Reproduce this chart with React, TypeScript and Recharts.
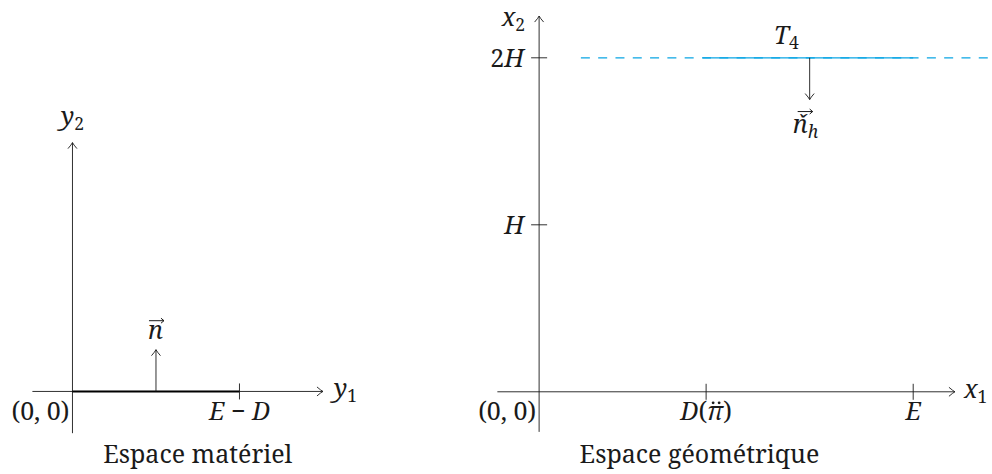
import React from "react";
import { LineChart, XAxis, YAxis, ReferenceLine, ReferenceDot } from "recharts";

// scale: one model unit in pixels (same on both axes)
const UNIT = 167;
const FONT = "Noto Serif";
const FS = 25;
const INK = "#1a1a1a";
const CYAN = "#0AA5E4";
const TICK = 8 / UNIT;

type Part = { t: string; it?: boolean; sub?: boolean };
type Tick = { value: number; parts: Part[]; dots?: number };

// --- material space (left)
const matAxisX = [-0.24, 1.5];
const matAxisY = [-0.25, 1.49];
const matSegment = [0, 1];
const matTicksX: Tick[] = [{ value: 1, parts: [{ t: "E", it: true }, { t: " − " }, { t: "D", it: true }] }];
const matNormal = { x: 0.5, from: 0, to: 0.25 };

// --- geometric space (right)
const geoAxisX = [-0.25, 2.49];
const geoAxisY = [-0.24, 2.25];
const geoTicksX: Tick[] = [
  // dots = horizontal offset of the double-dot accent over pi
  { value: 1, parts: [{ t: "D", it: true }, { t: "(" }, { t: "π", it: true }, { t: ")" }], dots: 10 },
  { value: 2.24, parts: [{ t: "E", it: true }] },
];
const geoTicksY: Tick[] = [
  { value: 1, parts: [{ t: "H", it: true }] },
  { value: 2, parts: [{ t: "2" }, { t: "H", it: true }] },
];
const boundaryLevel = 2;
const boundaryDashed = [0.25, 2.71];
const boundarySolid = [0.98, 2.24];
const geoNormal = { x: 1.62, from: 2, to: 1.75 };
const t4Pos = 1.48;

const MathText = ({ x, y, parts, anchor = "middle" }: { x: number; y: number; parts: Part[]; anchor?: string }) => (
  <text x={x} y={y} textAnchor={anchor as any} style={{ fontFamily: FONT, fontSize: FS }} fill={INK}>
    {parts.map((p, i) => {
      const prevSub = i > 0 && parts[i - 1].sub;
      const dy = p.sub ? 5 : prevSub ? -5 : 0;
      return (
        <tspan key={i} style={{ fontStyle: p.it ? "italic" : "normal", fontSize: p.sub ? FS * 0.7 : FS }} dy={dy}>
          {p.t}
        </tspan>
      );
    })}
  </text>
);

const VecMark = ({ x1, x2, y }: { x1: number; x2: number; y: number }) => (
  <g stroke={INK} strokeWidth={1} fill="none">
    <line x1={x1} y1={y} x2={x2} y2={y} />
    <path d={`M${x2 - 3},${y - 2.5} L${x2},${y} L${x2 - 3},${y + 2.5}`} />
  </g>
);

const Arrow = (props: any) => {
  const { x1, y1, x2, y2, stroke, strokeWidth } = props;
  const a = Math.atan2(y2 - y1, x2 - x1);
  const c = Math.cos(a);
  const s = Math.sin(a);
  const len = 6;
  const w = 4.5;
  const bx = x2 - len * c;
  const by = y2 - len * s;
  const qx = x2 - 2 * c;
  const qy = y2 - 2 * s;
  return (
    <g>
      <line x1={x1} y1={y1} x2={x2} y2={y2} stroke={stroke} strokeWidth={strokeWidth} />
      <path
        d={`M${bx - s * w},${by + c * w} Q${qx - s * 1},${qy + c * 1} ${x2},${y2} Q${qx + s * 1},${qy - c * 1} ${bx + s * w},${by - c * w}`}
        fill="none"
        stroke={stroke}
        strokeWidth={strokeWidth}
      />
    </g>
  );
};

const Panel = ({
  originX,
  originY,
  xDomain,
  yDomain,
  children,
}: {
  originX: number;
  originY: number;
  xDomain: number[];
  yDomain: number[];
  children: React.ReactNode;
}) => (
  <div
    style={{
      position: "absolute",
      left: originX + xDomain[0] * UNIT,
      top: originY - yDomain[1] * UNIT,
    }}
  >
    <LineChart
      width={(xDomain[1] - xDomain[0]) * UNIT}
      height={(yDomain[1] - yDomain[0]) * UNIT}
      margin={{ top: 0, right: 0, bottom: 0, left: 0 }}
      data={[]}
    >
      <XAxis type="number" dataKey="x" domain={xDomain} hide allowDataOverflow />
      <YAxis type="number" dataKey="y" domain={yDomain} hide allowDataOverflow />
      {children}
    </LineChart>
  </div>
);

const label = (x: number, y: number, parts: Part[], dx = 0, dy = 0, anchor = "middle", key?: string, dots?: number) => (
  <ReferenceDot
    key={key}
    x={x}
    y={y}
    r={0}
    ifOverflow="visible"
    shape={(p: any) => (
      <g>
        <MathText x={p.cx + dx} y={p.cy + dy} parts={parts} anchor={anchor} />
        {dots !== undefined && (
          <g fill={INK}>
            <circle cx={p.cx + dx + dots - 3} cy={p.cy + dy - 17} r={1.4} />
            <circle cx={p.cx + dx + dots + 3} cy={p.cy + dy - 17} r={1.4} />
          </g>
        )}
      </g>
    )}
  />
);

const vecLabel = (x: number, y: number, parts: Part[], dx: number, dy: number, arrowDy: number, arrowW: number[]) => (
  <ReferenceDot
    x={x}
    y={y}
    r={0}
    ifOverflow="visible"
    shape={(p: any) => (
      <g>
        <MathText x={p.cx + dx} y={p.cy + dy} parts={parts} anchor="start" />
        <VecMark x1={p.cx + arrowW[0]} x2={p.cx + arrowW[1]} y={p.cy + arrowDy} />
      </g>
    )}
  />
);

const axisProps = { stroke: INK, strokeWidth: 0.9, ifOverflow: "visible" as const };

export default function App() {
  return (
    <div style={{ position: "absolute", left: 0, top: 0, width: 992, height: 474, background: "#fff", overflow: "hidden" }}>
      <Panel originX={72} originY={391} xDomain={[-0.44, 1.78]} yDomain={[-0.49, 2.35]}>
        <ReferenceLine {...axisProps} segment={[{ x: matAxisX[0], y: 0 }, { x: matAxisX[1], y: 0 }]} shape={Arrow} />
        <ReferenceLine {...axisProps} segment={[{ x: 0, y: matAxisY[0] }, { x: 0, y: matAxisY[1] }]} shape={Arrow} />
        <ReferenceLine
          ifOverflow="visible"
          stroke="#000"
          strokeWidth={2}
          segment={[{ x: matSegment[0], y: 0 }, { x: matSegment[1], y: 0 }]}
        />
        {matTicksX.map((t) => (
          <ReferenceLine key={t.value} {...axisProps} segment={[{ x: t.value, y: -TICK }, { x: t.value, y: TICK }]} />
        ))}
        {matTicksX.map((t) => label(t.value, 0, t.parts, 0, 29, "middle", "l" + t.value))}
        <ReferenceLine {...axisProps} segment={[{ x: matNormal.x, y: matNormal.from }, { x: matNormal.x, y: matNormal.to }]} shape={Arrow} />
        {vecLabel(matNormal.x, matNormal.to, [{ t: "n", it: true }], -8, -11, -29, [-7, 8])}
        {label(0, matAxisY[1], [{ t: "y", it: true }, { t: "2", sub: true }], 0, -18)}
        {label(matAxisX[1], 0, [{ t: "y", it: true }, { t: "1", sub: true }], 11, 6, "start")}
        {label(0, 0, [{ t: "(0, 0)" }], -3, 29, "end")}
        {label(0.75, 0, [{ t: "Espace matériel" }], 0, 72)}
      </Panel>

      <Panel originX={539} originY={392} xDomain={[-0.36, 2.72]} yDomain={[-0.49, 2.4]}>
        <ReferenceLine
          ifOverflow="visible"
          stroke={CYAN}
          strokeWidth={1.3}
          strokeDasharray="9 8.3"
          segment={[{ x: boundaryDashed[0], y: boundaryLevel }, { x: boundaryDashed[1], y: boundaryLevel }]}
        />
        <ReferenceLine
          ifOverflow="visible"
          stroke={CYAN}
          strokeWidth={1.3}
          segment={[{ x: boundarySolid[0], y: boundaryLevel }, { x: boundarySolid[1], y: boundaryLevel }]}
        />
        <ReferenceLine {...axisProps} segment={[{ x: geoAxisX[0], y: 0 }, { x: geoAxisX[1], y: 0 }]} shape={Arrow} />
        <ReferenceLine {...axisProps} segment={[{ x: 0, y: geoAxisY[0] }, { x: 0, y: geoAxisY[1] }]} shape={Arrow} />
        {geoTicksX.map((t) => (
          <ReferenceLine key={"x" + t.value} {...axisProps} segment={[{ x: t.value, y: -TICK }, { x: t.value, y: TICK }]} />
        ))}
        {geoTicksY.map((t) => (
          <ReferenceLine key={"y" + t.value} {...axisProps} segment={[{ x: -TICK, y: t.value }, { x: TICK, y: t.value }]} />
        ))}
        {geoTicksX.map((t) => label(t.value, 0, t.parts, 0, 28, "middle", "gx" + t.value, t.dots))}
        {geoTicksY.map((t) => label(0, t.value, t.parts, -15, 9, "end", "gy" + t.value))}
        <ReferenceLine {...axisProps} segment={[{ x: geoNormal.x, y: geoNormal.from }, { x: geoNormal.x, y: geoNormal.to }]} shape={Arrow} />
        {vecLabel(geoNormal.x, geoNormal.to, [{ t: "ň", it: true }, { t: "h", it: true, sub: true }], -17, 33, 12, [-12, 3])}
        {label(t4Pos, boundaryLevel, [{ t: "T", it: true }, { t: "4", sub: true }], 0, -14)}
        {label(0, geoAxisY[1], [{ t: "x", it: true }, { t: "2", sub: true }], -14, 10, "end")}
        {label(geoAxisX[1], 0, [{ t: "x", it: true }, { t: "1", sub: true }], 9, 6, "start")}
        {label(0, 0, [{ t: "(0, 0)" }], -3, 28, "end")}
        {label(0.96, 0, [{ t: "Espace géométrique" }], 0, 71)}
      </Panel>
    </div>
  );
}
